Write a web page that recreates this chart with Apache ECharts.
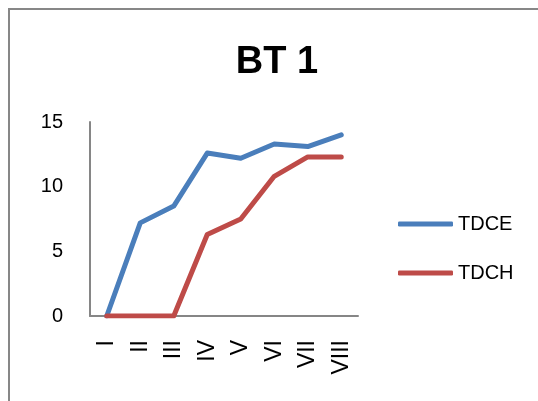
<!DOCTYPE html>
<html>
<head>
<meta charset="utf-8">
<script src="https://cdn.jsdelivr.net/npm/echarts@6/dist/echarts.min.js"></script>
<style>
  html, body { margin: 0; padding: 0; background: #fff; }
  #chart { width: 538px; height: 401px; }
</style>
</head>
<body>
<div id="chart"></div>
<script>
  const categories = ['I', 'II', 'III', 'IV', 'V', 'VI', 'VII', 'VIII'];
  const tdce = [0, 7.2, 8.5, 12.6, 12.2, 13.3, 13.1, 14.0];
  const tdch = [0, 0, 0, 6.3, 7.5, 10.8, 12.3, 12.3];
  const seriesNames = ['TDCE', 'TDCH'];
  const colors = ['#4A7EBB', '#BE4B48'];

  const font = 'Liberation Sans, Arial, sans-serif';
  const axisColor = '#868686';

  const chart = echarts.init(document.getElementById('chart'));

  chart.setOption({
    animation: false,
    color: colors,
    title: {
      text: 'BT 1',
      left: 272,
      textAlign: 'center',
      top: 39,
      textStyle: {fontFamily: font, fontSize: 38, fontWeight: 'bold', color: '#000'}
    },
    legend: {
      orient: 'vertical',
      left: 398,
      top: 214,
      padding: 0,
      icon: 'roundRect',
      itemWidth: 55,
      itemHeight: 5,
      itemGap: 29,
      itemTextGap: 4,
      data: seriesNames,
      textStyle: {fontFamily: font, fontSize: 20, color: '#000'}
    },
    grid: {left: 90, top: 122, width: 268, height: 194},
    xAxis: {
      type: 'category',
      data: categories,
      boundaryGap: true,
      axisLine: {lineStyle: {color: axisColor, width: 2}},
      axisTick: {show: false},
      axisLabel: {
        rotate: 90,
        margin: 24,
        fontFamily: font,
        fontSize: 23,
        color: '#000'
      }
    },
    yAxis: {
      type: 'value',
      min: 0,
      max: 15,
      interval: 5,
      axisLine: {show: true, lineStyle: {color: axisColor, width: 2}},
      axisTick: {show: false},
      splitLine: {show: false},
      axisLabel: {margin: 27, fontFamily: font, fontSize: 20, color: '#000'}
    },
    series: [
      {
        name: seriesNames[0],
        type: 'line',
        data: tdce,
        symbol: 'none',
        lineStyle: {width: 5, cap: 'round', join: 'round'}
      },
      {
        name: seriesNames[1],
        type: 'line',
        data: tdch,
        symbol: 'none',
        lineStyle: {width: 5, cap: 'round', join: 'round'}
      }
    ],
    graphic: [{
      type: 'rect',
      silent: true,
      shape: {x: 9, y: 9, width: 600, height: 500},
      style: {fill: 'none', stroke: '#878787', lineWidth: 2}
    }]
  });
</script>
</body>
</html>
